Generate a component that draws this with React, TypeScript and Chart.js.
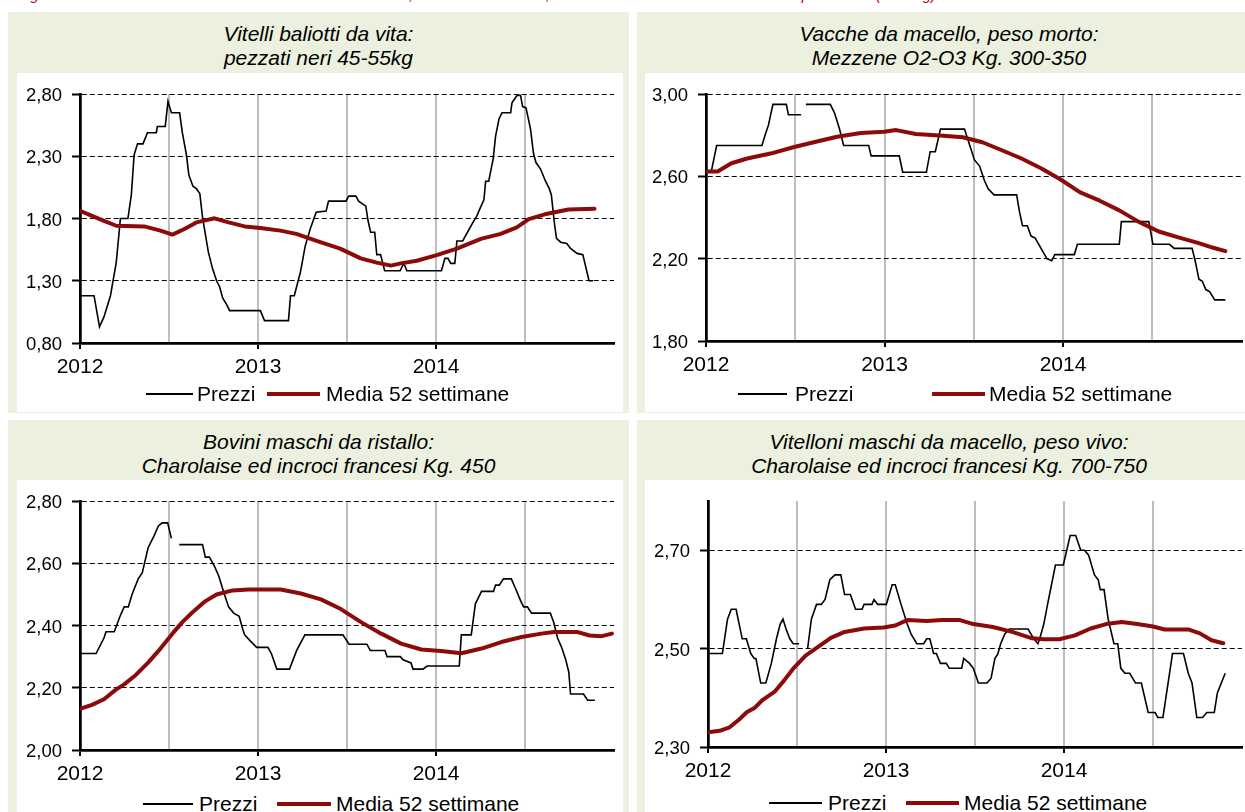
import React, { useEffect, useRef } from 'react';
import { Chart, registerables } from 'chart.js';

Chart.register(...registerables);

type Pt = [number, number | null];

const FONT = "'Liberation Sans', Arial, sans-serif";
const RED = '#8C0A0A';

// x axis: weeks since January 2012
const xTickWeeks = [0, 26, 52, 78, 104, 130];
const xTickLabels = ['2012', '', '2013', '', '2014', ''];
const legendLabels = ['Prezzi', 'Media 52 settimane'];
const caption =
  'Figura 3 - Prezzi settimanali dei bovini da vita e da macello, mercato di Modena, con media mobile delle 52 settimane precedenti (euro/kg)';

// Panel 1
const vitelliTitle = ['Vitelli baliotti da vita:', 'pezzati neri 45-55kg'];
const vitelliTicks = [0.8, 1.3, 1.8, 2.3, 2.8];
const vitelliPrezzi: Pt[] = [
  [0, 1.18], [4.1, 1.18], [5.7, 0.93], [7.0, 1.01], [8.9, 1.18], [10.6, 1.45], [11.8, 1.8], [14.0, 1.8],
  [15.0, 1.99], [15.8, 2.31], [16.8, 2.4], [18.4, 2.4], [19.7, 2.49], [22.3, 2.49], [22.6, 2.54], [24.9, 2.54],
  [25.7, 2.74], [26.7, 2.65], [29.1, 2.65], [29.9, 2.49], [31.1, 2.31], [31.8, 2.15], [33.0, 2.06], [34.0, 2.04],
  [35.0, 2.0], [35.8, 1.81], [37.5, 1.53], [38.7, 1.4], [39.9, 1.3], [40.8, 1.25], [41.7, 1.16], [42.8, 1.11],
  [43.7, 1.06], [52.7, 1.06], [53.9, 0.98], [60.9, 0.98], [61.5, 1.18], [62.6, 1.18], [64.4, 1.37], [65.8, 1.58],
  [67.3, 1.72], [69.0, 1.85], [71.9, 1.86], [72.6, 1.94], [77.7, 1.94], [78.5, 1.98], [80.6, 1.98], [81.4, 1.94],
  [83.5, 1.9], [84.1, 1.79], [84.9, 1.69], [86.1, 1.69], [86.7, 1.51], [87.8, 1.51], [89.0, 1.38], [93.5, 1.38],
  [94.6, 1.44], [95.5, 1.38], [105.6, 1.38], [106.6, 1.48], [107.5, 1.48], [108.3, 1.44], [109.5, 1.44],
  [110.1, 1.62], [111.8, 1.62], [113.6, 1.71], [114.8, 1.77], [115.9, 1.82], [117.0, 1.89], [118.0, 1.95],
  [118.5, 2.1], [119.4, 2.1], [120.7, 2.28], [121.4, 2.46], [122.4, 2.6], [123.3, 2.65], [125.8, 2.65],
  [126.2, 2.73], [127.7, 2.79], [128.7, 2.79], [129.3, 2.7], [130.3, 2.69], [131.6, 2.52], [132.5, 2.32],
  [133.2, 2.25], [134.5, 2.2], [136.0, 2.1], [137.1, 2.04], [137.7, 1.99], [138.4, 1.81], [138.7, 1.74],
  [139.2, 1.64], [140.4, 1.61], [142.2, 1.6], [143.3, 1.56], [145.2, 1.52], [146.9, 1.51], [148.7, 1.3], [149.9, 1.3],
];
const vitelliMedia: Pt[] = [
  [0, 1.861], [3.5, 1.821], [7.0, 1.782], [10.6, 1.742], [18.8, 1.737], [23.5, 1.703], [27.0, 1.671],
  [30.5, 1.716], [34.0, 1.769], [39.3, 1.802], [43.4, 1.769], [48.1, 1.737], [52.7, 1.724], [58.5, 1.703],
  [63.2, 1.677], [70.2, 1.611], [76.0, 1.558], [82.0, 1.48], [86.7, 1.446], [90.8, 1.422], [93.7, 1.44],
  [98.4, 1.461], [104.2, 1.506], [110.1, 1.558], [117.1, 1.637], [122.9, 1.677], [127.6, 1.729], [131.1, 1.795],
  [135.8, 1.834], [142.7, 1.873], [150.3, 1.879],
];

// Panel 2
const vaccheTitle = ['Vacche da macello, peso morto:', 'Mezzene O2-O3 Kg. 300-350'];
const vaccheTicks = [1.8, 2.2, 2.6, 3.0];
const vaccheePrezzi: Pt[] = [
  [0, 2.62], [1.5, 2.62], [3.1, 2.75], [16.3, 2.75], [17.2, 2.8], [18.2, 2.85], [19.5, 2.95], [23.4, 2.95],
  [24.0, 2.9], [27.7, 2.9], [28.3, null], [29.1, 2.95], [36.2, 2.95], [37.4, 2.91], [38.9, 2.83], [40.1, 2.75],
  [47.4, 2.75], [48.1, 2.7], [56.3, 2.7], [57.3, 2.62], [64.2, 2.62], [65.3, 2.72], [66.8, 2.72], [68.3, 2.83],
  [75.3, 2.83], [78.2, 2.68], [79.7, 2.65], [81.1, 2.58], [82.2, 2.54], [83.9, 2.51], [90.5, 2.51], [91.3, 2.43],
  [92.2, 2.36], [93.6, 2.36], [94.7, 2.31], [95.9, 2.3], [97.6, 2.25], [99.3, 2.2], [100.7, 2.19], [101.6, 2.22],
  [107.3, 2.22], [108.2, 2.27], [120.4, 2.27], [121.0, 2.38], [129.0, 2.38], [130.2, 2.27], [135.0, 2.27],
  [136.4, 2.25], [141.6, 2.25], [142.5, 2.19], [143.6, 2.1], [144.6, 2.09], [145.6, 2.05], [146.7, 2.04],
  [148.2, 2.0], [151.3, 2.0],
];
const vaccheMedia: Pt[] = [
  [0, 2.624], [3.4, 2.624], [7.4, 2.664], [12.0, 2.687], [18.8, 2.711], [25.7, 2.743], [31.4, 2.766],
  [38.2, 2.793], [45.1, 2.811], [51.9, 2.817], [55.4, 2.825], [61.1, 2.806], [69.1, 2.798], [74.8, 2.79],
  [80.5, 2.766], [86.2, 2.727], [91.9, 2.687], [97.6, 2.64], [103.3, 2.585], [109.0, 2.522], [114.7, 2.482],
  [120.4, 2.435], [126.1, 2.379], [131.9, 2.332], [137.6, 2.304], [143.3, 2.277], [147.8, 2.253], [151.3, 2.237],
];

// Panel 3
const boviniTitle = ['Bovini maschi da ristallo:', 'Charolaise ed incroci francesi Kg. 450'];
const boviniTicks = [2.0, 2.2, 2.4, 2.6, 2.8];
const boviniPrezzi: Pt[] = [
  [0, 2.31], [4.7, 2.31], [7.0, 2.36], [7.6, 2.38], [10.0, 2.38], [11.7, 2.43], [12.9, 2.46], [14.1, 2.46],
  [15.2, 2.5], [17.0, 2.55], [18.2, 2.57], [19.9, 2.65], [21.7, 2.69], [22.9, 2.72], [24.0, 2.73], [25.6, 2.73],
  [26.7, 2.68], [27.8, null], [29.0, 2.66], [35.8, 2.66], [36.6, 2.62], [37.8, 2.62], [39.3, 2.59], [40.5, 2.56],
  [42.2, 2.5], [43.4, 2.46], [44.9, 2.44], [46.5, 2.43], [47.5, 2.39], [48.1, 2.37], [49.8, 2.35], [51.6, 2.33],
  [54.9, 2.33], [55.9, 2.31], [57.5, 2.26], [61.2, 2.26], [63.3, 2.32], [65.7, 2.37], [76.8, 2.37], [78.6, 2.34],
  [83.8, 2.34], [84.8, 2.32], [89.1, 2.32], [89.7, 2.3], [93.6, 2.3], [94.4, 2.29], [96.7, 2.28], [97.3, 2.26],
  [100.2, 2.26], [101.4, 2.27], [110.8, 2.27], [111.4, 2.37], [114.3, 2.37], [115.5, 2.47], [117.3, 2.51],
  [120.8, 2.51], [121.4, 2.53], [122.5, 2.53], [123.7, 2.55], [126.0, 2.55], [127.2, 2.52], [128.7, 2.48],
  [129.6, 2.46], [130.7, 2.46], [131.9, 2.44], [137.4, 2.44], [138.4, 2.41], [139.5, 2.36], [140.7, 2.33],
  [141.9, 2.29], [142.8, 2.25], [143.3, 2.18], [147.1, 2.18], [148.3, 2.16], [150.4, 2.16],
];
const boviniMedia: Pt[] = [
  [0, 2.132], [3.5, 2.145], [7.0, 2.163], [10.6, 2.195], [12.9, 2.211], [16.4, 2.242], [19.9, 2.281],
  [23.5, 2.326], [27.0, 2.374], [29.9, 2.411], [32.8, 2.442], [36.3, 2.476], [39.9, 2.5], [44.6, 2.513],
  [49.2, 2.516], [58.6, 2.516], [64.5, 2.503], [70.4, 2.484], [76.2, 2.453], [82.1, 2.411], [88.0, 2.374],
  [93.8, 2.342], [99.7, 2.323], [105.5, 2.318], [111.4, 2.311], [117.3, 2.326], [123.1, 2.347], [129.0, 2.363],
  [134.8, 2.374], [138.4, 2.379], [145.4, 2.379], [148.9, 2.368], [152.4, 2.366], [155.4, 2.374],
];

// Panel 4
const vitelloniTitle = ['Vitelloni maschi da macello, peso vivo:', 'Charolaise ed incroci francesi Kg. 700-750'];
const vitelloniTicks = [2.3, 2.5, 2.7];
const vitelloniPrezzi: Pt[] = [
  [0, 2.49], [4.2, 2.49], [5.7, 2.56], [6.8, 2.58], [8.2, 2.58], [10.0, 2.52], [11.2, 2.52], [12.5, 2.49],
  [13.5, 2.48], [14.0, 2.48], [15.4, 2.43], [16.9, 2.43], [18.5, 2.47], [20.0, 2.52], [21.1, 2.55], [21.9, 2.56],
  [22.8, 2.54], [23.9, 2.52], [24.9, 2.51], [26.6, 2.51], [27.8, null], [29.1, 2.5], [30.2, 2.56], [31.7, 2.59],
  [33.1, 2.59], [34.2, 2.6], [35.6, 2.64], [37.1, 2.65], [38.8, 2.65], [39.9, 2.61], [41.6, 2.61], [43.1, 2.58],
  [45.0, 2.58], [45.6, 2.59], [47.9, 2.59], [48.5, 2.6], [49.6, 2.59], [52.1, 2.59], [53.8, 2.63], [54.7, 2.63],
  [56.4, 2.59], [58.2, 2.55], [59.3, 2.53], [61.0, 2.51], [63.0, 2.51], [63.9, 2.52], [64.8, 2.52], [65.9, 2.49],
  [66.7, 2.49], [67.9, 2.47], [69.6, 2.47], [70.5, 2.46], [74.1, 2.46], [74.7, 2.48], [76.4, 2.47], [77.5, 2.46],
  [79.0, 2.43], [81.5, 2.43], [82.7, 2.44], [83.8, 2.48], [84.7, 2.49], [85.5, 2.51], [86.7, 2.53], [88.0, 2.54],
  [93.5, 2.54], [95.2, 2.52], [96.4, 2.51], [96.9, 2.52], [98.1, 2.55], [99.2, 2.59], [101.5, 2.67], [103.8, 2.67],
  [105.8, 2.73], [107.4, 2.73], [108.9, 2.7], [110.0, 2.7], [111.2, 2.69], [112.9, 2.65], [114.0, 2.64],
  [114.6, 2.62], [115.7, 2.62], [116.9, 2.56], [118.6, 2.51], [119.7, 2.51], [120.6, 2.46], [121.8, 2.45],
  [123.2, 2.45], [124.9, 2.43], [126.6, 2.43], [128.6, 2.37], [130.6, 2.37], [131.4, 2.36], [132.9, 2.36],
  [135.7, 2.49], [138.9, 2.49], [140.3, 2.45], [141.4, 2.43], [142.8, 2.36], [144.5, 2.36], [145.7, 2.37],
  [147.9, 2.37], [148.8, 2.41], [151.1, 2.45],
];
const vitelloniMedia: Pt[] = [
  [0, 2.33], [3.4, 2.333], [6.3, 2.34], [9.1, 2.356], [11.4, 2.371], [13.7, 2.38], [16.0, 2.396], [19.4, 2.412],
  [22.2, 2.435], [25.1, 2.461], [28.5, 2.486], [33.1, 2.508], [35.9, 2.522], [39.9, 2.534], [45.6, 2.541],
  [51.3, 2.543], [54.7, 2.547], [58.2, 2.558], [63.9, 2.556], [68.4, 2.558], [73.6, 2.558], [77.5, 2.55],
  [83.2, 2.544], [88.9, 2.534], [94.7, 2.521], [98.1, 2.519], [102.6, 2.519], [107.2, 2.527], [111.8, 2.541],
  [116.3, 2.55], [120.9, 2.554], [125.4, 2.55], [130.0, 2.545], [133.4, 2.539], [140.3, 2.539], [143.7, 2.531],
  [147.1, 2.517], [150.5, 2.511],
];

type PanelCfg = {
  title: string[];
  ticks: number[];
  yMin: number;
  yMax: number;
  prezzi: Pt[];
  media: Pt[];
  green: { left: number; top: number; width: number; height: number };
  white: { left: number; top: number; width: number; height: number };
  canvas: { left: number; top: number; width: number; height: number };
  padTop: number;
  padRight: number;
  yWidth: number;
  legend: { y: number; l1: number; w1: number; t1: number; l2: number; w2: number; t2: number };
};

const panels: PanelCfg[] = [
  {
    title: vitelliTitle, ticks: vitelliTicks, yMin: 0.8, yMax: 2.8, prezzi: vitelliPrezzi, media: vitelliMedia,
    green: { left: 8, top: 12, width: 621, height: 401 },
    white: { left: 17, top: 73, width: 606, height: 339 },
    canvas: { left: 17, top: 73, width: 606, height: 310 },
    padTop: 16, padRight: 9, yWidth: 63,
    legend: { y: 394, l1: 146, w1: 47, t1: 197, l2: 267, w2: 53, t2: 326 },
  },
  {
    title: vaccheTitle, ticks: vaccheTicks, yMin: 1.8, yMax: 3.0, prezzi: vaccheePrezzi, media: vaccheMedia,
    green: { left: 637, top: 12, width: 624, height: 401 },
    white: { left: 645, top: 73, width: 608, height: 339 },
    canvas: { left: 645, top: 73, width: 620, height: 308 },
    padTop: 14, padRight: 23.5, yWidth: 61,
    legend: { y: 394, l1: 738, w1: 49, t1: 795, l2: 932, w2: 53, t2: 989 },
  },
  {
    title: boviniTitle, ticks: boviniTicks, yMin: 2.0, yMax: 2.8, prezzi: boviniPrezzi, media: boviniMedia,
    green: { left: 8, top: 420, width: 621, height: 400 },
    white: { left: 17, top: 480, width: 606, height: 340 },
    canvas: { left: 17, top: 480, width: 606, height: 310 },
    padTop: 17, padRight: 9, yWidth: 63,
    legend: { y: 804, l1: 143, w1: 50, t1: 199, l2: 277, w2: 54, t2: 336 },
  },
  {
    title: vitelloniTitle, ticks: vitelloniTicks, yMin: 2.3, yMax: 2.8, prezzi: vitelloniPrezzi, media: vitelloniMedia,
    green: { left: 637, top: 420, width: 624, height: 400 },
    white: { left: 645, top: 480, width: 608, height: 340 },
    canvas: { left: 645, top: 480, width: 620, height: 307 },
    padTop: 16, padRight: 23, yWidth: 63,
    legend: { y: 803, l1: 769, w1: 53, t1: 828, l2: 906, w2: 53, t2: 964 },
  },
];

const fmt = (v: number) => v.toFixed(2).replace('.', ',');

function PanelChart({ cfg }: { cfg: PanelCfg }) {
  const ref = useRef<HTMLCanvasElement>(null);
  useEffect(() => {
    if (!ref.current) return;
    const chart = new Chart(ref.current, {
      type: 'line',
      data: {
        datasets: [
          {
            label: legendLabels[0],
            data: cfg.prezzi.map(([x, y]) => ({ x, y })),
            borderColor: '#000',
            borderWidth: 1.6,
            pointRadius: 0,
            tension: 0,
            spanGaps: false,
            order: 1,
          },
          {
            label: legendLabels[1],
            data: cfg.media.map(([x, y]) => ({ x, y })),
            borderColor: RED,
            borderWidth: 4,
            pointRadius: 0,
            tension: 0,
            borderJoinStyle: 'round',
            borderCapStyle: 'round',
            order: 0,
          },
        ],
      } as any,
      options: {
        animation: false,
        responsive: false,
        devicePixelRatio: 1,
        layout: { padding: { top: cfg.padTop, right: cfg.padRight, left: 0, bottom: 0 } },
        plugins: { legend: { display: false }, tooltip: { enabled: false } },
        scales: {
          x: {
            type: 'linear',
            min: 0,
            max: 156,
            afterBuildTicks: (s: any) => {
              s.ticks = xTickWeeks.map((v) => ({ value: v }));
            },
            afterFit: (s: any) => {
              s.height = 40;
            },
            grid: {
              color: (c: any) => (c.tick && c.tick.value === 0 ? 'rgba(0,0,0,0)' : '#BEBEBE'),
              lineWidth: 2,
              tickColor: (c: any) => (c.tick && c.tick.value % 52 === 0 ? '#000' : 'rgba(0,0,0,0)'),
              tickLength: 6,
              tickWidth: 2,
            },
            border: { color: '#000', width: 2.75 },
            ticks: {
              autoSkip: false,
              maxRotation: 0,
              padding: 6,
              color: '#000',
              font: { family: FONT, size: 21 },
              callback: (_v: any, i: number) => xTickLabels[i] ?? '',
            },
          },
          y: {
            min: cfg.yMin,
            max: cfg.yMax,
            afterBuildTicks: (s: any) => {
              s.ticks = cfg.ticks.map((v) => ({ value: v }));
            },
            afterFit: (s: any) => {
              s.width = cfg.yWidth;
            },
            grid: { color: '#000', lineWidth: 1, tickColor: '#000', tickLength: 8, tickWidth: 2 },
            border: { color: '#000', width: 2.75, dash: [5, 3] },
            ticks: {
              padding: 10,
              labelOffset: 2,
              color: '#000',
              font: { family: FONT, size: 18.5 },
              callback: (v: any) => fmt(Number(v)),
            },
          },
        },
      } as any,
    });
    return () => chart.destroy();
  }, [cfg]);

  const g = cfg.green;
  const w = cfg.white;
  const c = cfg.canvas;
  const L = cfg.legend;
  const textStyle: React.CSSProperties = {
    position: 'absolute',
    top: L.y - 12,
    height: 24,
    lineHeight: '24px',
    fontSize: 21,
    fontFamily: FONT,
    color: '#000',
    whiteSpace: 'nowrap',
  };
  return (
    <>
      <div style={{ position: 'absolute', left: g.left, top: g.top, width: g.width, height: g.height, background: '#EBF1DE' }} />
      <div
        style={{
          position: 'absolute',
          left: g.left,
          top: g.top + 10,
          width: g.width,
          textAlign: 'center',
          fontFamily: FONT,
          fontStyle: 'italic',
          fontSize: 21,
          lineHeight: '24px',
          color: '#000',
        }}
      >
        {cfg.title.map((t, i) => (
          <div key={i}>{t}</div>
        ))}
      </div>
      <div style={{ position: 'absolute', left: w.left, top: w.top, width: w.width, height: w.height, background: '#fff' }} />
      <canvas
        ref={ref}
        width={c.width}
        height={c.height}
        style={{ position: 'absolute', left: c.left, top: c.top, width: c.width, height: c.height }}
      />
      <div style={{ position: 'absolute', left: L.l1, top: L.y - 1, width: L.w1, height: 1.6, background: '#000' }} />
      <div style={{ ...textStyle, left: L.t1 }}>{legendLabels[0]}</div>
      <div style={{ position: 'absolute', left: L.l2, top: L.y - 2, width: L.w2, height: 4, background: RED }} />
      <div style={{ ...textStyle, left: L.t2 }}>{legendLabels[1]}</div>
    </>
  );
}

export default function App() {
  return (
    <div
      style={{
        position: 'fixed',
        left: 0,
        top: 0,
        width: 1245,
        height: 812,
        overflow: 'hidden',
        background: '#fff',
      }}
    >
      <div
        style={{
          position: 'absolute',
          left: 18,
          top: -13,
          whiteSpace: 'nowrap',
          fontFamily: FONT,
          fontStyle: 'italic',
          fontSize: 15,
          lineHeight: '16px',
          color: '#C00000',
        }}
      >
        {caption}
      </div>
      {panels.map((p, i) => (
        <PanelChart key={i} cfg={p} />
      ))}
    </div>
  );
}
